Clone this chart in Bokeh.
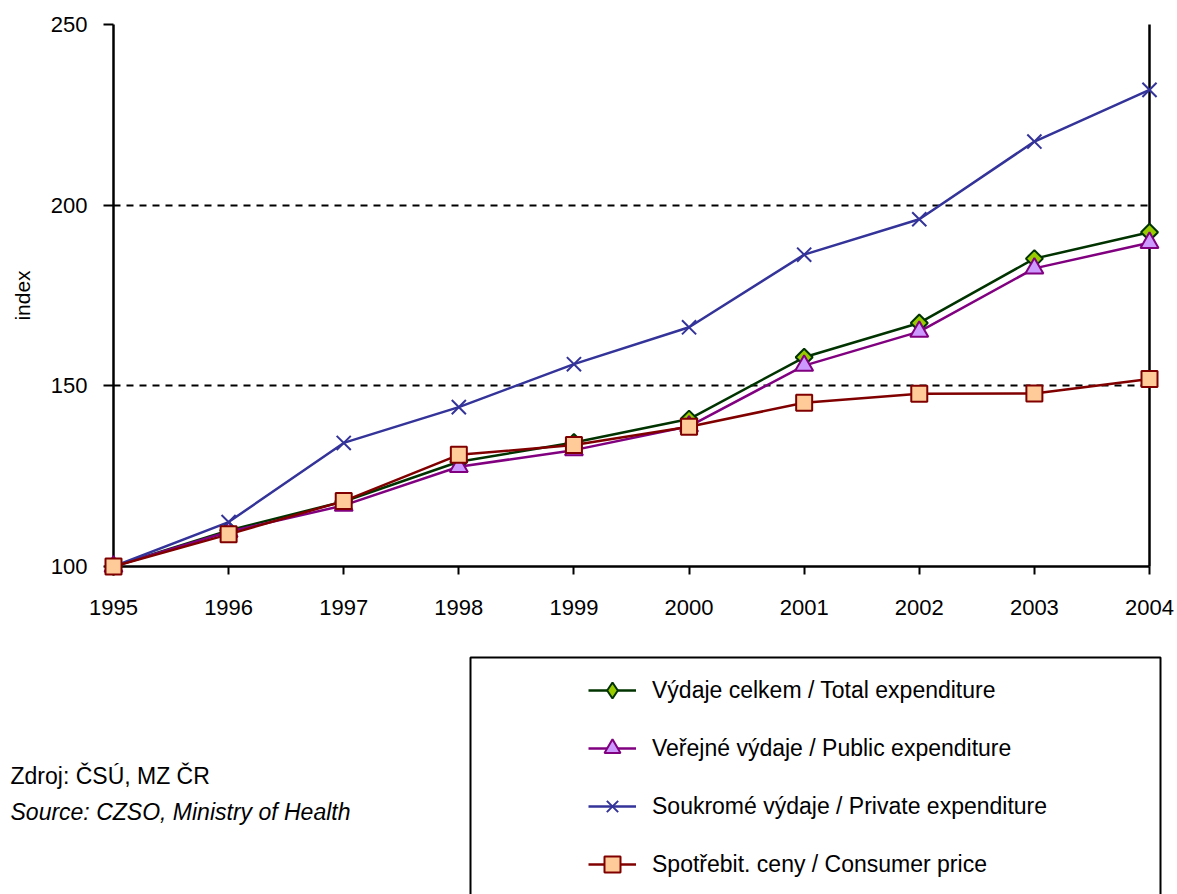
import math
from bokeh.plotting import figure
from bokeh.layouts import column
from bokeh.models import (Range1d, FixedTicker, LinearAxis, Legend, LegendItem,
                          Label, BoxAnnotation)
from bokeh.embed import file_html
from bokeh.resources import INLINE

# ---- data ----
years = [1995, 1996, 1997, 1998, 1999, 2000, 2001, 2002, 2003, 2004]
total = [100, 110.0, 118.0, 129.0, 134.3, 140.8, 157.9, 167.4, 185.2, 192.5]
public = [100, 109.6, 116.9, 127.6, 132.2, 138.8, 155.6, 165.0, 182.5, 189.6]
private = [100, 112.3, 134.2, 144.1, 156.0, 166.2, 186.3, 196.1, 217.6, 231.9]
consumer = [100, 108.9, 118.1, 130.9, 133.6, 138.7, 145.3, 147.8, 147.9, 151.9]

labels = ["Výdaje celkem / Total expenditure",
          "Veřejné výdaje / Public expenditure",
          "Soukromé výdaje / Private expenditure",
          "Spotřebit. ceny / Consumer price"]
y_ticks = [100, 150, 200, 250]
grid_ticks = [150, 200, 250]
y_label = "index"
src_cz = "Zdroj: ČSÚ, MZ ČR"
src_en = "Source: CZSO, Ministry of Health"

FONT = "Liberation Sans"
W = 1177

# ---- main chart ----
p = figure(width=W, height=640, output_backend="svg", toolbar_location=None,
           x_range=Range1d(1995, 2004), y_range=Range1d(100, 250),
           min_border_left=113, min_border_top=24, min_border_right=28,
           min_border_bottom=74)
p.frame_align = False
p.outline_line_color = None

p.xaxis.ticker = FixedTicker(ticks=years)
p.yaxis.ticker = FixedTicker(ticks=y_ticks)
for ax in (p.xaxis[0], p.yaxis[0]):
    ax.axis_line_color = "black"
    ax.axis_line_width = 2.5
    ax.major_tick_line_color = "black"
    ax.major_tick_line_width = 2
    ax.major_tick_in = 0
    ax.minor_tick_line_color = None
    ax.major_label_text_font = FONT
    ax.major_label_text_font_size = "22px"
    ax.major_label_text_color = "black"
p.xaxis.major_tick_out = 8
p.xaxis.major_label_standoff = 25
p.yaxis.major_tick_out = 10
p.yaxis.major_label_standoff = 16
p.yaxis.axis_label = y_label
p.yaxis.axis_label_text_font = FONT
p.yaxis.axis_label_text_font_size = "21px"
p.yaxis.axis_label_text_font_style = "normal"
p.yaxis.axis_label_text_color = "black"
p.yaxis.axis_label_standoff = 14

right_ax = LinearAxis(ticker=FixedTicker(ticks=[]), axis_line_color="black",
                      axis_line_width=2.5, major_tick_line_color=None,
                      minor_tick_line_color=None, major_label_text_font_size="0px")
p.add_layout(right_ax, "right")

p.xgrid.visible = False
p.ygrid.ticker = FixedTicker(ticks=grid_ticks)
p.ygrid.grid_line_color = "black"
p.ygrid.grid_line_width = 2
p.ygrid.grid_line_dash = "7 6"

specs = [
    (total, "#003300", "square", "#99CC00", 12, math.pi / 4, "diamond"),
    (public, "#800080", "triangle", "#CC99FF", 18, 0, "triangle"),
    (private, "#333399", "x", "#333399", 20, 0, "x"),
    (consumer, "#800000", "square", "#FFCC99", 16, 0, "square"),
]
for vals, col, mk, fill, sz, ang, _ in specs:
    p.line(years, vals, line_color=col, line_width=2.5)
    p.scatter(years, vals, marker=mk, size=sz, angle=ang, fill_color=fill,
              line_color=col, line_width=2, level="overlay")

# ---- bottom panel: legend + source ----
H2 = 254
q = figure(width=W, height=H2, output_backend="svg", toolbar_location=None,
           x_range=Range1d(0, W), y_range=Range1d(H2, 0),
           x_axis_location=None, y_axis_location=None, min_border=0)
q.frame_align = False
q.outline_line_color = None
q.xgrid.visible = False
q.ygrid.visible = False

nan = float("nan")
items = []
for (vals, col, mk, fill, sz, ang, lmk), lab in zip(specs, labels):
    ln = q.line(x=[nan], y=[nan], line_color=col, line_width=2.5)
    sc = q.scatter(x=[nan], y=[nan], marker=lmk, fill_color=fill,
                   line_color=col, line_width=2)
    items.append(LegendItem(label=lab, renderers=[ln, sc]))

legend = Legend(items=items, location=(588, 10), orientation="vertical",
                padding=0, margin=0, spacing=18, glyph_width=48, glyph_height=40,
                label_height=20, label_standoff=16, label_text_font=FONT,
                label_text_font_size="23px", label_text_color="black",
                border_line_color=None, background_fill_alpha=0)
q.add_layout(legend, "center")

box = BoxAnnotation(left=470, right=1160, top=17, bottom=H2 + 20,
                    fill_alpha=0, line_color="black", line_alpha=1, line_width=2)
q.add_layout(box)

q.add_layout(Label(x=10, y=135, text=src_cz, text_baseline="middle",
                   text_color="black", text_font=FONT, text_font_size="23px"))
q.add_layout(Label(x=10, y=171, text=src_en, text_baseline="middle",
                   text_color="black", text_font=FONT, text_font_size="23px",
                   text_font_style="italic"))

layout = column(p, q, spacing=0)
open("out.html", "w").write(file_html(layout, INLINE))
